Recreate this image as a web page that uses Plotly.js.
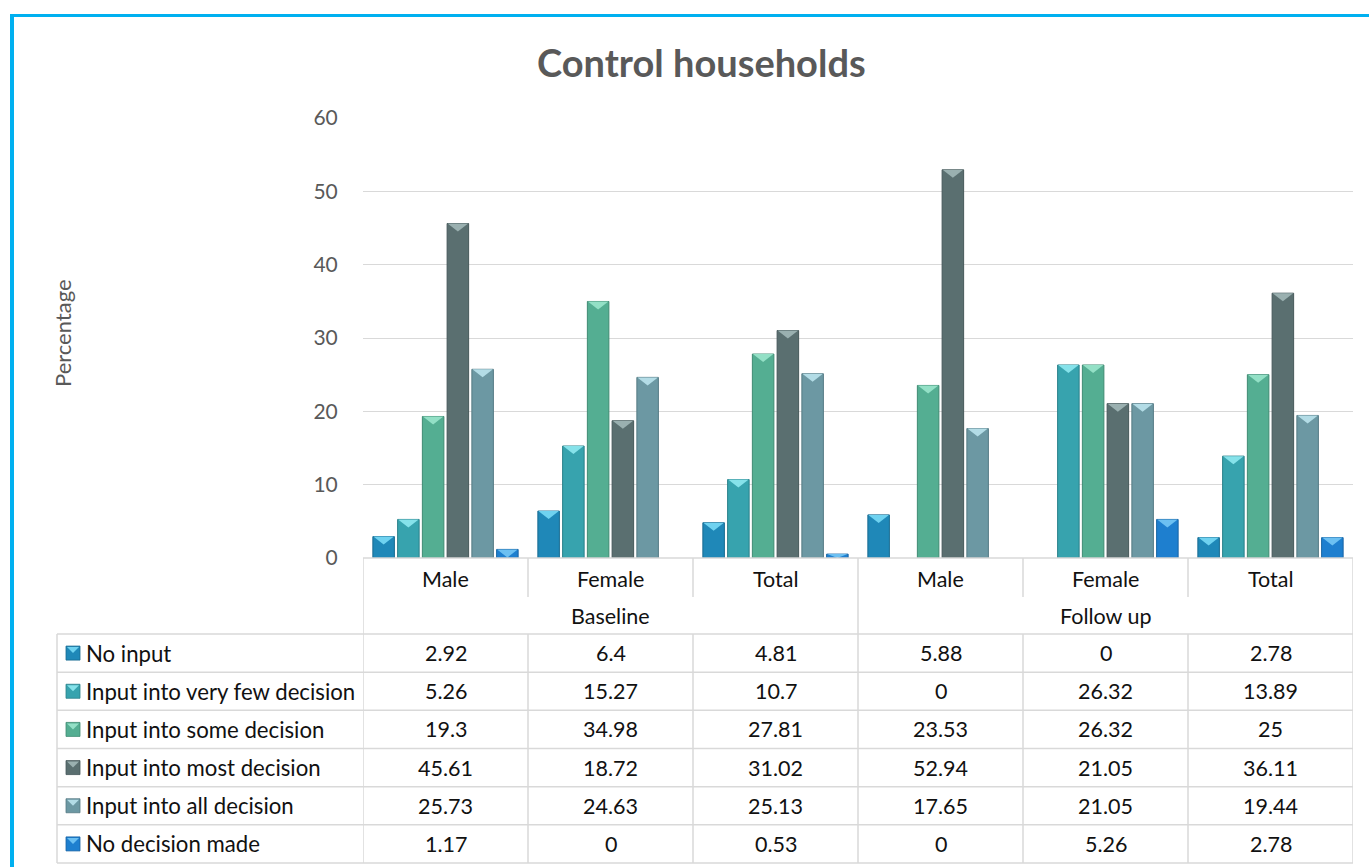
<!DOCTYPE html>
<html>
<head>
<meta charset="utf-8">
<script src="https://cdn.plot.ly/plotly-3.0.1.min.js"></script>
<style>html,body{margin:0;padding:0;background:#fff;}#chart{width:1369px;height:867px;}</style>
</head>
<body>
<div id="chart"></div>
<script>
// ---- data ----
const categories = ['Male', 'Female', 'Total', 'Male', 'Female', 'Total'];
const groups = ['Baseline', 'Follow up'];
const seriesNames = ['No input', 'Input into very few decision', 'Input into some decision',
  'Input into most decision', 'Input into all decision', 'No decision made'];
const noInput = [2.92, 6.4, 4.81, 5.88, 0, 2.78];
const veryFew = [5.26, 15.27, 10.7, 0, 26.32, 13.89];
const someDec = [19.3, 34.98, 27.81, 23.53, 26.32, 25];
const mostDec = [45.61, 18.72, 31.02, 52.94, 21.05, 36.11];
const allDec = [25.73, 24.63, 25.13, 17.65, 21.05, 19.44];
const noDecision = [1.17, 0, 0.53, 0, 5.26, 2.78];
const yTicks = [0, 10, 20, 30, 40, 50, 60];
const titleText = 'Control households';
const yTitle = 'Percentage';

// ---- styles ----
const seriesValues = [noInput, veryFew, someDec, mostDec, allDec, noDecision];
const faceColors = ['#1F88B8', '#37A3AE', '#54AE92', '#5A6F70', '#6C98A3', '#1E7FCF'];
const edgeColors = ['#176A90', '#2A8089', '#3F8A72', '#46585A', '#557A84', '#1763A3'];
const capColors  = ['#6FD2F0', '#86E2EA', '#93E0C6', '#9AB0B0', '#B3DCE6', '#6CC0F2'];

const W = 1369, H = 867;
const L = 363, R = 1353, T = 118, B = 558;
const plotW = R - L, plotH = B - T;
const yMax = 60;
const bargap = 0.1, bargroupgap = 0.13;
const nS = seriesValues.length, nC = categories.length;
const colPx = plotW / nC;
const slot = (1 - bargap) / nS;                 // in category units
const barWpx = colPx * slot * (1 - bargroupgap);
const pxPerUnit = plotH / yMax;

const px2x = p => (p - L) / plotW;
const py2y = p => (B - p) / plotH;

const font = 'Lato, "Liberation Sans", Arial, sans-serif';
const gridC = '#D9D9D9';

const traces = seriesValues.map((vals, j) => ({
  type: 'bar',
  name: seriesNames[j],
  x: categories.map((c, i) => i),
  y: vals,
  marker: {
    color: faceColors[j],
    line: { color: edgeColors[j], width: vals.map(v => v > 0 ? 1 : 0) }
  },
  hoverinfo: 'skip',
  showlegend: false
}));

const shapes = [];
const annotations = [];

// bevel caps on bar tops
seriesValues.forEach((vals, j) => {
  vals.forEach((v, i) => {
    if (v <= 0) return;
    const cx = i - (1 - bargap) / 2 + slot * (j + 0.5);
    const h = Math.min(8, v * pxPerUnit);
    const hw = barWpx / 2 - 0.5;
    shapes.push({
      type: 'path', xref: 'x', yref: 'y', layer: 'above',
      xsizemode: 'pixel', ysizemode: 'pixel', xanchor: cx, yanchor: v,
      path: `M${-hw},0 L${hw},0 L0,${-h} Z`,
      fillcolor: capColors[j], line: { width: 0 }
    });
  });
});

// ---- data table geometry ----
const catRowTop = B, catRowBot = 597, grpRowBot = 634;
const rowH = (863 - 634) / nS;
const tableLeft = 57;
const lineStyle = { color: gridC, width: 1.5 };

shapes.push({ type: 'line', xref: 'paper', yref: 'paper', x0: 0, x1: 1, y0: py2y(B), y1: py2y(B), line: lineStyle });
for (let r = 0; r <= nS; r++) {
  const py = grpRowBot + r * rowH;
  shapes.push({ type: 'line', xref: 'paper', yref: 'paper', x0: px2x(tableLeft), x1: 1, y0: py2y(py), y1: py2y(py), line: lineStyle });
}
shapes.push({ type: 'line', xref: 'paper', yref: 'paper', x0: px2x(tableLeft), x1: px2x(tableLeft), y0: py2y(grpRowBot), y1: py2y(863), line: lineStyle });
for (let k = 0; k <= nC; k++) {
  const xb = k - 0.5;
  if (k % 3 === 0) {
    shapes.push({ type: 'line', xref: 'x', yref: 'paper', x0: xb, x1: xb, y0: py2y(B), y1: py2y(863), line: lineStyle });
  } else {
    shapes.push({ type: 'line', xref: 'x', yref: 'paper', x0: xb, x1: xb, y0: py2y(B), y1: py2y(catRowBot), line: lineStyle });
    shapes.push({ type: 'line', xref: 'x', yref: 'paper', x0: xb, x1: xb, y0: py2y(grpRowBot), y1: py2y(863), line: lineStyle });
  }
}

const txtFont = { family: font, size: 21.5, color: '#111' };

categories.forEach((c, i) => {
  annotations.push({ xref: 'x', yref: 'paper', x: i, y: py2y((catRowTop + catRowBot) / 2 + 1), text: c,
    showarrow: false, xanchor: 'center', yanchor: 'middle', font: txtFont });
});
groups.forEach((g, gi) => {
  annotations.push({ xref: 'x', yref: 'paper', x: gi * 3 + 1, y: py2y((catRowBot + grpRowBot) / 2), text: g,
    showarrow: false, xanchor: 'center', yanchor: 'middle', font: txtFont });
});
seriesValues.forEach((vals, j) => {
  const cy = grpRowBot + (j + 0.5) * rowH;
  const kx0 = 66, kx1 = 80, ky0 = cy - 7, ky1 = cy + 7;
  shapes.push({ type: 'rect', xref: 'paper', yref: 'paper', x0: px2x(kx0), x1: px2x(kx1), y0: py2y(ky0), y1: py2y(ky1),
    fillcolor: faceColors[j], line: { color: edgeColors[j], width: 0.8 } });
  shapes.push({ type: 'path', xref: 'paper', yref: 'paper',
    path: `M${px2x(kx0 + 1)},${py2y(ky0 + 1)} L${px2x(kx1 - 1)},${py2y(ky0 + 1)} L${px2x((kx0 + kx1) / 2)},${py2y(cy)} Z`,
    fillcolor: capColors[j], line: { width: 0 } });
  annotations.push({ xref: 'paper', yref: 'paper', x: px2x(84), y: py2y(cy), text: seriesNames[j],
    showarrow: false, xanchor: 'left', yanchor: 'middle', font: { family: font, size: 22.2, color: '#111' } });
  vals.forEach((v, i) => {
    annotations.push({ xref: 'x', yref: 'paper', x: i, y: py2y(cy), text: String(v),
      showarrow: false, xanchor: 'center', yanchor: 'middle', font: txtFont });
  });
});

annotations.push({ xref: 'paper', yref: 'paper', x: px2x(701), y: py2y(62), text: titleText, showarrow: false,
  xanchor: 'center', yanchor: 'middle', font: { family: font, size: 38, weight: 700, color: '#595959' } });
annotations.push({ xref: 'paper', yref: 'paper', x: px2x(62), y: py2y(333), text: yTitle, showarrow: false,
  textangle: -90, xanchor: 'center', yanchor: 'middle', font: { family: font, size: 22, color: '#595959' } });

shapes.push({ type: 'rect', xref: 'paper', yref: 'paper', x0: px2x(10), x1: px2x(W + 5), y0: py2y(14), y1: py2y(17),
  fillcolor: '#00B0F0', line: { width: 0 } });
shapes.push({ type: 'rect', xref: 'paper', yref: 'paper', x0: px2x(10), x1: px2x(14), y0: py2y(14), y1: py2y(H + 5),
  fillcolor: '#00B0F0', line: { width: 0 } });

const layout = {
  width: W, height: H,
  margin: { l: L, r: W - R, t: T, b: H - B, pad: 0 },
  paper_bgcolor: '#fff', plot_bgcolor: '#fff',
  barmode: 'group', bargap: bargap, bargroupgap: bargroupgap,
  showlegend: false,
  xaxis: { range: [-0.5, nC - 0.5], showticklabels: false, ticks: '', showgrid: false, zeroline: false, showline: false, fixedrange: true },
  yaxis: {
    range: [0, yMax], tickvals: yTicks, ticktext: yTicks.map(String),
    showgrid: true, gridcolor: gridC, gridwidth: 1, zeroline: false, showline: false,
    ticks: 'outside', ticklen: 20, tickcolor: 'rgba(0,0,0,0)',
    tickfont: { family: font, size: 21, color: '#595959' }, fixedrange: true
  },
  shapes: shapes,
  annotations: annotations
};

Plotly.newPlot('chart', traces, layout, { displayModeBar: false, staticPlot: true });
</script>
</body>
</html>
